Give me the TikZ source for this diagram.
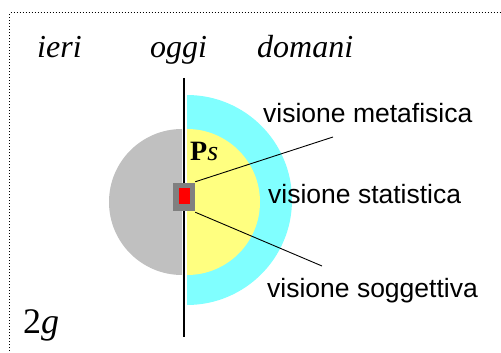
\documentclass[tikz,border=0pt]{standalone}
\usepackage{fontspec}
\setmainfont{Liberation Serif}
\setsansfont{Liberation Sans}
\definecolor{cyanish}{HTML}{80FFFF}
\definecolor{yellowish}{HTML}{FFFF80}
\definecolor{lgray}{HTML}{C0C0C0}
\definecolor{dgray}{HTML}{808080}
\begin{document}
\begin{tikzpicture}[x=1pt,y=-1pt,
  timelabel/.style={font=\fontsize{32}{34}\selectfont\itshape, anchor=base west, inner sep=0pt},
  vlabel/.style={font=\sffamily\fontsize{26.5}{28}\selectfont, anchor=base west, inner sep=0pt},
  conn/.style={draw=black, line width=0.9pt}]
\useasboundingbox (0,0) rectangle (501,353);
\fill[white] (0,0) rectangle (501,353);
\draw[dotted, line width=1pt] (9.5,360) -- (9.5,13) -- (505,13);
% discs
\fill[cyanish] (187,95) arc[start angle=-90, end angle=90, radius=105] -- cycle;
\fill[yellowish] (187,129) arc[start angle=-90, end angle=90, radius=73] -- cycle;
\fill[lgray] (182,129) arc[start angle=-90, end angle=-270, radius=73] -- cycle;
% vertical line
\draw[line width=1.6pt] (184,78) -- (184,337);
% square
\node[fill=dgray, minimum width=22pt, minimum height=28pt, inner sep=0pt] (sq) at (184,197) {};
\node[fill=red, minimum width=11pt, minimum height=16pt, inner sep=0pt] (rd) at (184.5,196) {};
% labels
\node[timelabel] (ieri) at (37,58) {ieri};
\node[timelabel] (oggi) at (150,58) {oggi};
\node[timelabel] (domani) at (257,58) {domani};
\node[font=\fontsize{36}{38}\selectfont, anchor=base west, inner sep=0pt] (twog) at (23,333) {2\textit{g}};
\node[font=\fontsize{28}{30}\selectfont, anchor=base west, inner sep=0pt] (ps) at (190,160) {\textbf{P}\textit{s}};
\node[vlabel] (meta) at (263,122) {visione metafisica};
\node[vlabel] (stat) at (268,203) {visione statistica};
\node[vlabel] (sogg) at (267,297) {visione soggettiva};
\coordinate (e1) at (333,137);
\coordinate (e2) at (322,266);
\draw[conn] (sq.north east) ++(0,-1) -- (e1);
\draw[conn] (sq.south east) ++(0,1) -- (e2);
\end{tikzpicture}
\end{document}
